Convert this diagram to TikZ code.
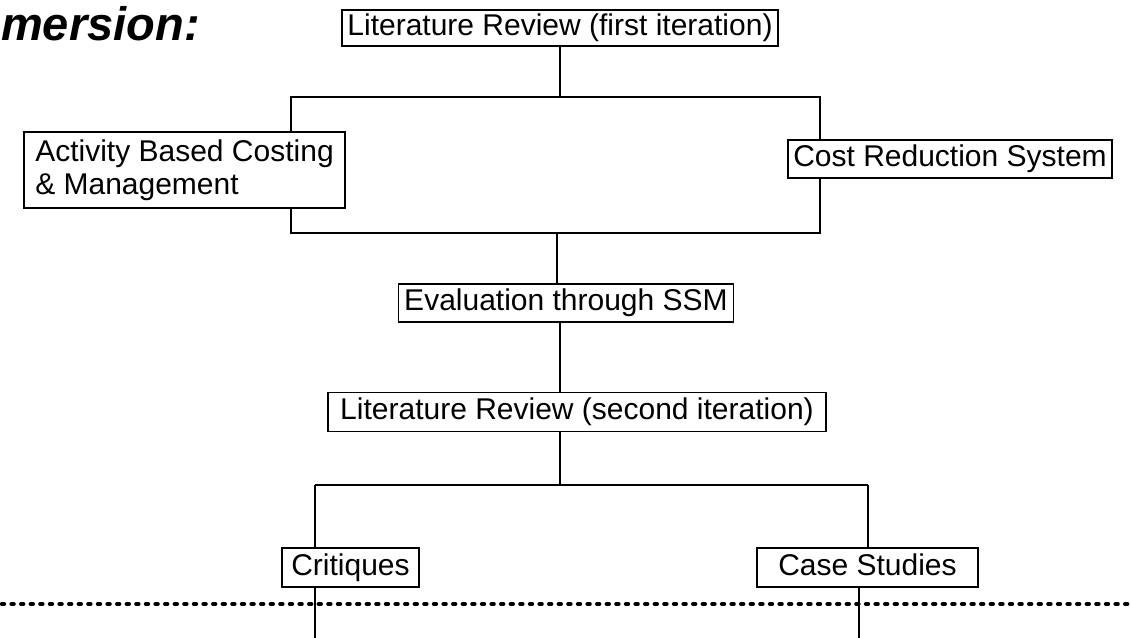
\documentclass[tikz,border=0pt]{standalone}
\usepackage{fontspec}
\setmainfont{Liberation Sans}
\begin{document}
\begin{tikzpicture}[x=1pt,y=-1pt,
  stagebox/.style={draw, line width=1.4pt, fill=white, inner sep=0pt,
    font=\fontsize{30}{33}\selectfont, text height=21pt, text depth=6pt},
  link/.style={line width=2pt},
  divider/.style={line width=4.4pt, line cap=round, dash pattern=on 2pt off 7.6pt}]
\useasboundingbox (0,0) rectangle (1131,637);

% heading fragment
\node[anchor=base west, inner sep=0pt, font=\fontsize{47}{52}\selectfont\bfseries\itshape]
  (head) at (1,40) {mersion:};

% branch points
\coordinate (tl) at (291,97);
\coordinate (tr) at (820,97);
\coordinate (bl) at (291,233);
\coordinate (br) at (820,233);
\coordinate (spine) at (560,0);
\coordinate (cl) at (315,485);
\coordinate (cr) at (868,485);
\coordinate (cr2) at (859,485);
\coordinate (foot) at (0,640);
\coordinate (dl) at (2,604);
\coordinate (dr) at (1131,604);

% first-level frame joining the two topics
\draw[link] (tl) -- (tr) -- (br) -- (bl) -- cycle;

% boxes
\node[stagebox, minimum width=436pt, minimum height=36pt] (lr1) at (560,28)
  {Literature Review (first iteration)};
\node[stagebox, minimum width=321pt, minimum height=76pt, align=left,
  text height=, text depth=] (abc) at (184.5,170)
  {Activity Based Costing\\\& Management};
\node[stagebox, minimum width=324pt, minimum height=38pt] (crs) at (950,159)
  {Cost Reduction System};
\node[stagebox, minimum width=335pt, minimum height=38pt] (eval) at (566,303)
  {Evaluation through SSM};
\node[stagebox, minimum width=498pt, minimum height=39pt] (lr2) at (577,412)
  {Literature Review (second iteration)};
\node[stagebox, minimum width=137pt, minimum height=39pt] (crit) at (350.5,567.5)
  {Critiques};
\node[stagebox, minimum width=221pt, minimum height=39pt] (case) at (867.5,567.5)
  {Case Studies};

% vertical links
\draw[link] (spine |- lr1.south) -- (spine |- tl);
\draw[link] ([xshift=-3pt]spine |- bl) -- ([xshift=-3pt]spine |- eval.north);
\draw[link] (spine |- eval.south) -- (spine |- lr2.north);
\draw[link] (spine |- lr2.south) -- (spine |- cl);
\draw[link] (cl) -- (cr);
\draw[link] (cl) -- (cl |- crit.north);
\draw[link] (cr) -- (cr |- case.north);
\draw[link] (cl |- crit.south) -- (cl |- foot);
\draw[link] (cr2 |- case.south) -- (cr2 |- foot);

% dotted divider
\draw[divider] (dl) -- (dr);
\end{tikzpicture}
\end{document}
